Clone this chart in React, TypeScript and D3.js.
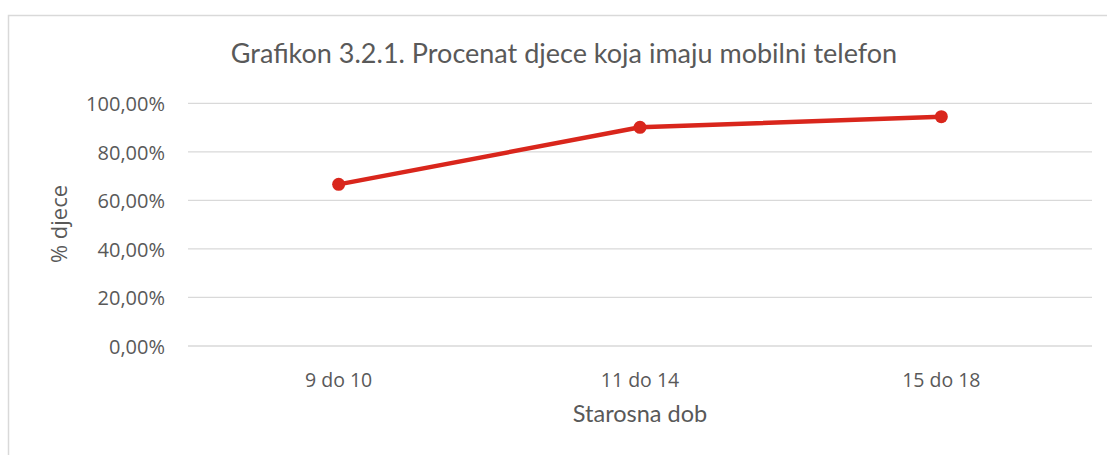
import React from "react";
import * as d3 from "d3";

const categories = ["9 do 10", "11 do 14", "15 do 18"];
const values = [0.666, 0.901, 0.945];
const yTicks = [0, 0.2, 0.4, 0.6, 0.8, 1.0];
const tickLabels = ["0,00%", "20,00%", "40,00%", "60,00%", "80,00%", "100,00%"];

export default function App() {
  const W = 1107, H = 455;
  const left = 188, right = 1092, top = 103.3, bottom = 346;
  const x = d3.scaleBand<string>().domain(categories).range([left, right]);
  const y = d3.scaleLinear().domain([0, 1]).range([bottom, top]);
  const cx = (c: string) => (x(c) as number) + x.bandwidth() / 2;
  const line = d3
    .line<number>()
    .x((_, i) => cx(categories[i]))
    .y((d) => y(d));
  const tickFont = "'Open Sans', 'Liberation Sans', sans-serif";
  const titleFont = "Lato, 'Noto Sans', sans-serif";
  return (
    <svg
      width={W}
      height={H}
      style={{ position: "absolute", left: 0, top: 0, background: "#fff" }}
    >
      <rect x={8.5} y={15.5} width={1120} height={460} fill="#fff" stroke="#d9d9d9" strokeWidth={1.5} />
      <text
        x={564}
        y={63}
        textAnchor="middle"
        fontFamily={titleFont}
        fontSize={27}
        fill="#595959"
      >
        Grafikon 3.2.1. Procenat djece koja imaju mobilni telefon
      </text>
      {yTicks.map((t, i) => (
        <g key={t}>
          <line x1={left} x2={right} y1={y(t)} y2={y(t)} stroke="#d9d9d9" strokeWidth={1.3} />
          <text
            x={165}
            y={y(t) + 1}
            dy="0.35em"
            textAnchor="end"
            fontFamily={tickFont}
            fontSize={20}
            fill="#595959"
          >
            {tickLabels[i]}
          </text>
        </g>
      ))}
      {categories.map((c) => (
        <text
          key={c}
          x={cx(c)}
          y={380}
          dy="0.35em"
          textAnchor="middle"
          fontFamily={tickFont}
          fontSize={19.5}
          fill="#595959"
        >
          {c}
        </text>
      ))}
      <text
        x={640}
        y={414}
        dy="0.35em"
        textAnchor="middle"
        fontFamily={titleFont}
        fontSize={23.5}
        fill="#595959"
      >
        Starosna dob
      </text>
      <text
        transform={`translate(59,224) rotate(-90)`}
        dy="0.35em"
        textAnchor="middle"
        fontFamily={tickFont}
        fontSize={22}
        fill="#595959"
      >
        % djece
      </text>
      <path d={line(values) || ""} fill="none" stroke="#d9261c" strokeWidth={4.5} strokeLinejoin="round" />
      {values.map((v, i) => (
        <circle key={i} cx={cx(categories[i])} cy={y(v)} r={6.5} fill="#d9261c" />
      ))}
    </svg>
  );
}
